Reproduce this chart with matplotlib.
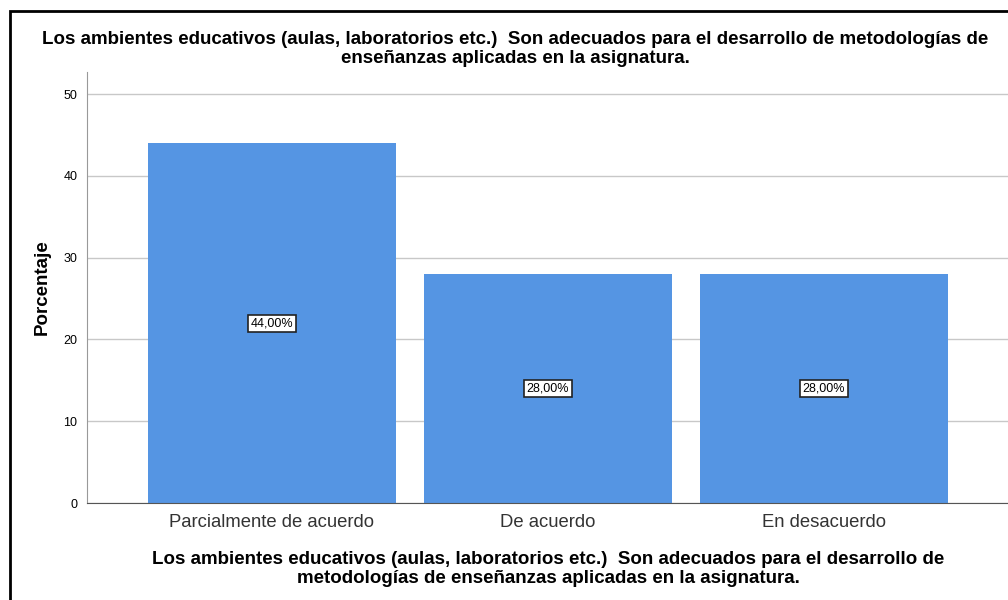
import matplotlib.pyplot as plt
from matplotlib.patches import Rectangle

# Data
categories = ['Parcialmente de acuerdo', 'De acuerdo', 'En desacuerdo']
values = [44.0, 28.0, 28.0]
labels = ['44,00%', '28,00%', '28,00%']
yticks = [0, 10, 20, 30, 40, 50]

title = ('Los ambientes educativos (aulas, laboratorios etc.)  Son adecuados para el desarrollo de metodologías de\n'
         'enseñanzas aplicadas en la asignatura.')
xlabel = ('Los ambientes educativos (aulas, laboratorios etc.)  Son adecuados para el desarrollo de\n'
          'metodologías de enseñanzas aplicadas en la asignatura.')

plt.rcParams['font.family'] = ['Liberation Sans', 'DejaVu Sans']

fig = plt.figure(figsize=(10.08, 6.0), dpi=100)
W, H = 1008, 600
# axes in pixel coords: left 87, right 1009, top 72, bottom 503
ax = fig.add_axes([87 / W, 1 - 503 / H, (1009 - 87) / W, (503 - 72) / H])

x = range(len(categories))
ax.bar(x, values, width=0.9, color='#5595e3', zorder=2)
for xi, v, lab in zip(x, values, labels):
    ax.text(xi, v / 2, lab, ha='center', va='center', fontsize=9, zorder=3,
            bbox=dict(boxstyle='square,pad=0.2', fc='white', ec='#222222', lw=1.2))

ax.set_xlim(-0.67, 2.67)
ax.set_ylim(0, 52.7)
ax.set_yticks(yticks)
ax.set_xticks(list(x))
ax.set_xticklabels(categories, fontsize=13.3, color='#333333')
ax.tick_params(axis='y', length=0, labelsize=9, pad=7)
ax.tick_params(axis='x', length=0, pad=8)
ax.yaxis.grid(True, color='#c8c8c8', lw=1, zorder=0)
ax.set_axisbelow(True)
for s in ['top', 'right']:
    ax.spines[s].set_visible(False)
ax.spines['left'].set_color('#999999')
ax.spines['bottom'].set_color('#555555')

ax.set_ylabel('Porcentaje', fontsize=13.5, fontweight='bold', labelpad=9)

fig.text(515 / W, 1 - 49 / H, title, ha='center', va='center', fontsize=13.5,
         fontweight='bold', linespacing=1.15)
fig.text(548 / W, 1 - 569 / H, xlabel, ha='center', va='center', fontsize=13.5,
         fontweight='bold', linespacing=1.15)

# outer frame, cropped at right and bottom
fig.patches.append(Rectangle((9.5 / W, -0.1), 1.2, 1 - 10.5 / H + 0.1,
                             transform=fig.transFigure, fill=False,
                             ec='black', lw=2))

fig.savefig('out.png', dpi=100)
